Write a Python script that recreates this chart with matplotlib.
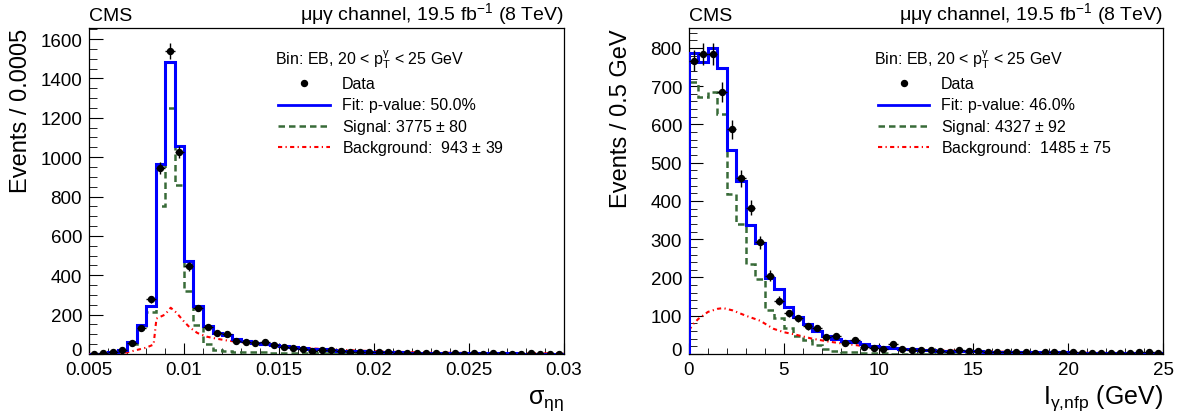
import numpy as np
import matplotlib
matplotlib.use('Agg')
import matplotlib.pyplot as plt
from matplotlib.ticker import MultipleLocator, FuncFormatter
from matplotlib.lines import Line2D
from matplotlib.transforms import ScaledTranslation

plt.rcParams['font.family'] = ['Liberation Sans', 'DejaVu Sans']
plt.rcParams['mathtext.fontset'] = 'custom'
plt.rcParams['mathtext.rm'] = 'Liberation Sans'
plt.rcParams['mathtext.it'] = 'Liberation Sans'
plt.rcParams['mathtext.bf'] = 'Liberation Sans:bold'

# sigma_ietaieta, 50 bins of 0.0005 from 0.005 to 0.03
sieie_range = (0.005, 0.03)
sieie_data = [0, 3, 8, 20, 56, 132, 277, 945, 1540, 1027,
              445, 232, 136, 105, 102, 68, 59, 54, 59, 48,
              37, 29, 25, 17, 22, 20, 17, 12, 8, 9,
              8, 8, 4, 5, 3, 4, 3, 2, 4, 2,
              3, 2, 3, 2, 1, 2, 3, 1, 2, 1]
sieie_fit = [0, 1, 8, 22, 60, 145, 246, 967, 1485, 1056,
             470, 243, 142, 108, 95, 75, 66, 58, 52, 46,
             40, 35, 31, 27, 23, 20, 17, 15, 13, 11,
             10, 9, 8, 7, 6, 6, 5, 5, 4, 4,
             4, 3, 3, 3, 3, 2, 2, 2, 2, 2]
sieie_sig = [0, 1, 6, 18, 50, 125, 215, 750, 1250, 857,
             318, 146, 50, 22, 15, 12, 10, 9, 8, 7,
             6, 5, 5, 4, 4, 3, 3, 3, 2, 2,
             2, 2, 1, 1, 1, 1, 1, 1, 1, 1,
             1, 1, 1, 1, 1, 1, 1, 1, 1, 1]
sieie_bkg_x = [0.005, 0.0065, 0.0070, 0.0075, 0.0080, 0.0084, 0.00855, 0.0090, 0.0093,
               0.0096, 0.0100, 0.0103, 0.0107, 0.0112, 0.0117, 0.0123, 0.013, 0.014,
               0.015, 0.016, 0.017, 0.018, 0.019, 0.02, 0.022, 0.025, 0.03]
sieie_bkg_y = [0, 0, 8, 20, 32, 48, 180, 200, 235,
               210, 165, 135, 107, 88, 78, 68, 60, 50,
               40, 33, 27, 22, 18, 14, 9, 5, 3]

# photon isolation, 50 bins of 0.5 GeV from 0 to 25
iso_range = (0, 25)
iso_data = [767, 784, 784, 684, 587, 459, 382, 292, 205, 139,
            106, 93, 72, 67, 44, 46, 28, 37, 19, 15,
            13, 26, 13, 11, 10, 10, 7, 6, 11, 8,
            7, 6, 6, 6, 6, 6, 3, 4, 4, 3,
            4, 3, 3, 3, 3, 3, 3, 4, 4, 2]
iso_fit = [786, 763, 799, 747, 532, 451, 336, 289, 198, 170,
           122, 98, 78, 61, 48, 39, 35, 31, 26, 21,
           18, 16, 14, 12, 11, 10, 9, 8, 8, 7,
           7, 6, 6, 5, 5, 5, 4, 4, 4, 4,
           3, 3, 3, 3, 3, 3, 2, 2, 2, 2]
iso_sig = [710, 671, 684, 627, 418, 340, 235, 195, 115, 95,
           67, 48, 36, 23, 13, 8, 6, 4, 3, 2,
           2, 1, 1, 1, 1, 1, 1, 1, 1, 1,
           0, 0, 0, 0, 0, 0, 0, 0, 0, 0,
           0, 0, 0, 0, 0, 0, 0, 0, 0, 0]
iso_bkg_x = [0, 0.25, 0.5, 1.0, 1.5, 1.8, 2.3, 3.0, 3.75, 4.45, 5.0, 5.5,
             6.5, 7.3, 8.0, 9.0, 10, 11, 12, 13, 15, 18, 21, 25]
iso_bkg_y = [62, 80, 92, 110, 118, 120, 114, 100, 87, 66, 57, 52,
             40, 33, 28, 22, 17, 14, 12, 10, 7, 5, 3, 2]

header = r'$\mathrm{\mu\mu\gamma}$ channel, 19.5 fb$^{-1}$ (8 TeV)'
bin_label = r'Bin: EB, 20 < $\mathrm{p}_{\mathrm{T}}^{\gamma}$ < 25 GeV'

green = '#386b38'


def draw_panel(ax, rng, data, fit, sig, bkg_x, bkg_y, ymax, leg_texts, xlabel, ylabel):
    data = np.array(data, dtype=float)
    edges = np.linspace(rng[0], rng[1], len(data) + 1)
    centers = 0.5 * (edges[1:] + edges[:-1])
    half = 0.5 * (edges[1] - edges[0])

    ax.stairs(fit, edges, color='blue', lw=2.2, zorder=4)
    ax.stairs(sig, edges, color=green, lw=1.8, ls=(0, (2.6, 1.6)), zorder=3)
    ax.plot(bkg_x, bkg_y, color='red', lw=1.5, ls=(0, (2.0, 1.6, 0.6, 1.6)), zorder=3)
    ax.errorbar(centers, data, yerr=np.sqrt(data), xerr=half, fmt='o', color='black',
                ms=4.3, elinewidth=1.0, capsize=0, zorder=5)

    ax.set_xlim(rng)
    ax.set_ylim(0, ymax)
    ax.tick_params(which='both', direction='in', top=False, right=False,
                   labelsize=13.5, pad=5)
    ax.tick_params(axis='y', which='major', length=10)
    ax.tick_params(axis='y', which='minor', length=5.5)
    ax.tick_params(axis='x', which='major', length=8)
    ax.tick_params(axis='x', which='minor', length=4.5)
    ax.xaxis.set_major_formatter(FuncFormatter(lambda v, p: '%g' % round(v, 6)))
    for s in ax.spines.values():
        s.set_linewidth(0.9)

    ax.text(0, 1.026, 'CMS', transform=ax.transAxes, ha='left', va='baseline', fontsize=14)
    ax.text(1, 1.026, header, transform=ax.transAxes, ha='right', va='baseline', fontsize=14)

    ax.text(1, -0.150, xlabel, transform=ax.transAxes, ha='right', va='baseline', fontsize=18)
    ax.set_ylabel(ylabel, loc='top', fontsize=17)
    ax.yaxis.set_label_coords(-0.12, 1.0)

    # legend, ROOT style
    tx = 0.532
    ax.text(0.391, 0.905, bin_label, transform=ax.transAxes, ha='left', va='center', fontsize=11.5)
    ys = [0.830, 0.765, 0.698, 0.634]
    ax.add_line(Line2D([0.453], [ys[0]], transform=ax.transAxes, marker='o', ms=4.3,
                       color='black', ls='none', clip_on=False))
    ax.add_line(Line2D([0.398, 0.507], [ys[1]] * 2, transform=ax.transAxes, color='blue',
                       lw=2.0, clip_on=False))
    ax.add_line(Line2D([0.398, 0.507], [ys[2]] * 2, transform=ax.transAxes, color=green,
                       lw=1.8, ls=(0, (2.6, 1.6)), clip_on=False))
    ax.add_line(Line2D([0.398, 0.507], [ys[3]] * 2, transform=ax.transAxes, color='red',
                       lw=1.5, ls=(0, (2.0, 1.6, 0.6, 1.6)), clip_on=False))
    for y, t in zip(ys, leg_texts):
        ax.text(tx, y, t, transform=ax.transAxes, ha='left', va='center', fontsize=11.5)


fig = plt.figure(figsize=(11.85, 4.14), dpi=100)
ax1 = fig.add_axes([89 / 1185, 59 / 414, 475 / 1185, 326 / 414])
ax2 = fig.add_axes([689 / 1185, 59 / 414, 474 / 1185, 326 / 414])

draw_panel(ax1, sieie_range, sieie_data, sieie_fit, sieie_sig, sieie_bkg_x, sieie_bkg_y, 1656,
           ['Data', 'Fit: p-value: 50.0%', r'Signal: 3775 $\pm$ 80', r'Background:  943 $\pm$ 39'],
           r'$\sigma_{\eta\eta}$', 'Events / 0.0005')
ax1.xaxis.set_major_locator(MultipleLocator(0.005))
ax1.xaxis.set_minor_locator(MultipleLocator(0.001))
ax1.yaxis.set_major_locator(MultipleLocator(200))
ax1.yaxis.set_minor_locator(MultipleLocator(50))

draw_panel(ax2, iso_range, iso_data, iso_fit, iso_sig, iso_bkg_x, iso_bkg_y, 852,
           ['Data', 'Fit: p-value: 46.0%', r'Signal: 4327 $\pm$ 92', r'Background:  1485 $\pm$ 75'],
           r'$\mathrm{I}_{\gamma{,}\mathrm{nfp}}$ (GeV)', 'Events / 0.5 GeV')
ax2.xaxis.set_major_locator(MultipleLocator(5))
ax2.xaxis.set_minor_locator(MultipleLocator(1))
ax2.yaxis.set_major_locator(MultipleLocator(100))
ax2.yaxis.set_minor_locator(MultipleLocator(20))

# lift the "0" on the y axis a little, like ROOT does, so it clears the x labels
fig.canvas.draw()
for ax in (ax1, ax2):
    for tick in ax.yaxis.get_major_ticks():
        if tick.get_loc() == 0:
            tick.label1.set_transform(tick.label1.get_transform()
                                      + ScaledTranslation(0, 4 / 72, fig.dpi_scale_trans))

fig.savefig('out.png', dpi=100)
